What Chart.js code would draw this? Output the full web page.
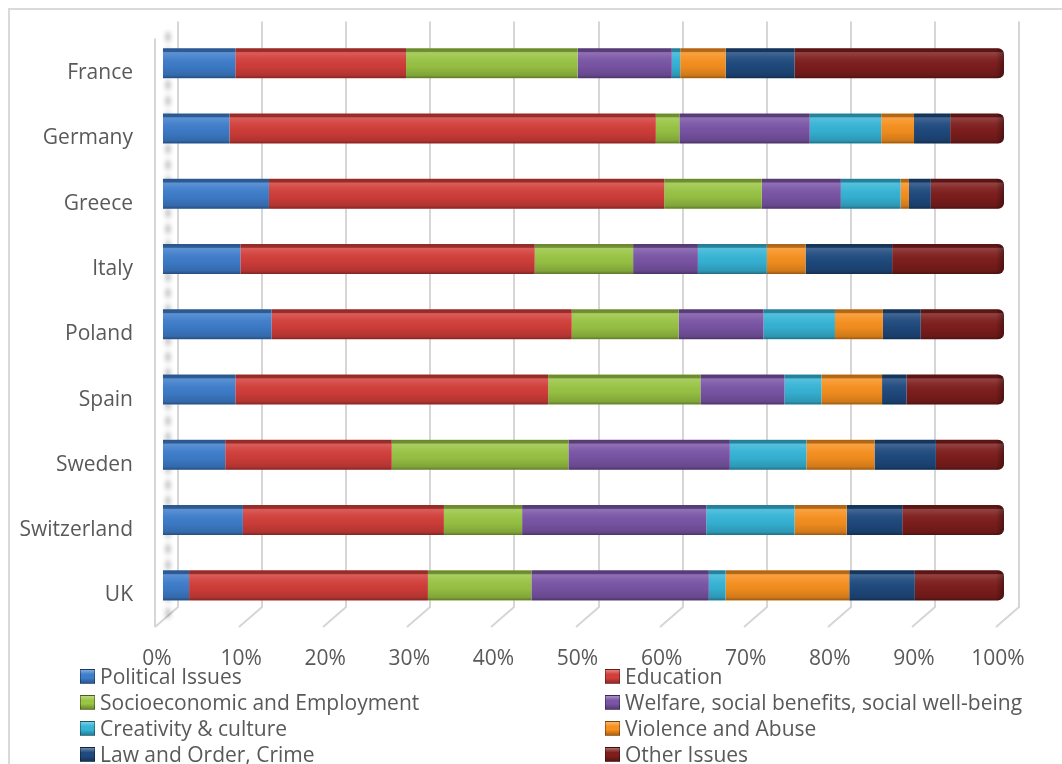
<!DOCTYPE html>
<html>
<head>
<meta charset="utf-8">
<title>Issues by country</title>
<script src="https://cdn.jsdelivr.net/npm/chart.js@4.4.1/dist/chart.umd.min.js"></script>
<style>
  html, body { margin: 0; padding: 0; background: #fff; }
  #wrap { position: relative; width: 1062px; height: 764px; overflow: hidden; font-family: "Open Sans", sans-serif; }
  #frame { position: absolute; left: 8px; top: 8px; width: 1200px; height: 900px;
           border-top: 2px solid #dadada; border-left: 2px solid #dadada; box-sizing: border-box; }
  #chart { position: absolute; left: 0; top: 0; }
  .leg { position: absolute; height: 26px; display: flex; align-items: center;
         font-size: 21px; line-height: 26px; color: #595959; white-space: nowrap; }
  .leg i { display: inline-block; width: 15px; height: 15px; margin-right: 5px; box-sizing: border-box; }
</style>
</head>
<body>
<div id="wrap">
  <div id="frame"></div>
  <canvas id="chart" width="1062" height="764"></canvas>
  <div id="legend"></div>
</div>
<script>
// Countries (top to bottom) and the share of each issue, in percent
const countries = ['France', 'Germany', 'Greece', 'Italy', 'Poland', 'Spain', 'Sweden', 'Switzerland', 'UK'];

const politicalIssues = [8.6, 7.9, 12.6, 9.2, 12.9, 8.6, 7.4, 9.5, 3.1];
const education       = [20.3, 50.7, 47.0, 35.0, 35.7, 37.2, 19.8, 23.9, 28.4];
const socioeconomic   = [20.4, 2.8, 11.6, 11.7, 12.7, 18.1, 21.0, 9.3, 12.3];
const welfare         = [11.2, 15.5, 9.4, 7.7, 10.1, 10.0, 19.2, 21.9, 21.1];
const creativity      = [1.0, 8.5, 7.1, 8.2, 8.5, 4.4, 9.1, 10.5, 2.0];
const violence        = [5.4, 3.9, 1.0, 4.6, 5.7, 7.2, 8.1, 6.2, 14.7];
const lawOrder        = [8.2, 4.3, 2.6, 10.3, 4.5, 2.9, 7.3, 6.6, 7.8];
const otherIssues     = [24.9, 6.4, 8.7, 13.3, 9.9, 11.6, 8.1, 12.1, 10.6];

const seriesNames = [
  'Political Issues', 'Education',
  'Socioeconomic and Employment', 'Welfare, social benefits, social well-being',
  'Creativity & culture', 'Violence and Abuse',
  'Law and Order, Crime', 'Other Issues'
];
const seriesValues = [politicalIssues, education, socioeconomic, welfare, creativity, violence, lawOrder, otherIssues];
const seriesColors = ['#3E7DCB', '#D23E3A', '#99C444', '#7A55A6', '#36B4D6', '#F7901F', '#1F4A7F', '#7E1E1D'];

const tickLabels = ['0%', '10%', '20%', '30%', '40%', '50%', '60%', '70%', '80%', '90%', '100%'];

const FONT = { family: '"Open Sans", sans-serif', size: 21 };
const TEXT = '#595959';
const CAP_RADIUS = 6;
const lastIndex = seriesNames.length - 1;

// Back wall gridlines with a short slanted floor edge, plus the left wall edge
const wallGrid = {
  id: 'wallGrid',
  beforeDatasetsDraw(chart) {
    const { ctx, chartArea, scales: { x } } = chart;
    const backTop = chartArea.top - 9;
    const backBottom = chartArea.bottom - 11;
    const dx = 23, dy = 20, shift = 15;
    ctx.save();
    ctx.strokeStyle = '#d6d6d6';
    ctx.lineWidth = 2;
    x.ticks.forEach(t => {
      const bx = Math.round(x.getPixelForValue(t.value) + shift);
      ctx.beginPath();
      ctx.moveTo(bx, backTop);
      ctx.lineTo(bx, backBottom);
      ctx.lineTo(bx - dx, backBottom + dy);
      ctx.stroke();
    });
    const fx = Math.round(x.getPixelForValue(0) + shift - dx);
    ctx.beginPath();
    ctx.moveTo(fx, backTop + 17);
    ctx.lineTo(fx, backBottom + dy);
    ctx.stroke();
    // soft shadow of the bars on the left wall
    ctx.filter = 'blur(2.5px)';
    ctx.strokeStyle = 'rgba(0,0,0,0.4)';
    ctx.lineWidth = 3;
    ctx.setLineDash([9, 7]);
    const sx = x.getPixelForValue(0) + 5;
    ctx.beginPath();
    ctx.moveTo(sx, chartArea.top + 2);
    ctx.lineTo(sx, chartArea.bottom + 2);
    ctx.stroke();
    ctx.restore();
  }
};

// Bevel shading across each bar: dark top face, highlight, darker lower edge
const barShade = {
  id: 'barShade',
  afterDatasetsDraw(chart) {
    const ctx = chart.ctx;
    chart.data.datasets.forEach((ds, i) => {
      const meta = chart.getDatasetMeta(i);
      if (meta.hidden) return;
      meta.data.forEach(bar => {
        const { x, y, base, height } = bar.getProps(['x', 'y', 'base', 'height'], true);
        const left = Math.min(x, base);
        const w = Math.abs(x - base);
        const top = y - height / 2;
        if (w <= 0) return;
        const g = ctx.createLinearGradient(0, top, 0, top + height);
        g.addColorStop(0, 'rgba(0,0,0,0.32)');
        g.addColorStop(0.11, 'rgba(0,0,0,0.26)');
        g.addColorStop(0.15, 'rgba(255,255,255,0.16)');
        g.addColorStop(0.32, 'rgba(255,255,255,0.06)');
        g.addColorStop(0.6, 'rgba(0,0,0,0.03)');
        g.addColorStop(0.9, 'rgba(0,0,0,0.16)');
        g.addColorStop(1, 'rgba(0,0,0,0.40)');
        ctx.save();
        ctx.beginPath();
        const r = i === lastIndex ? CAP_RADIUS : 0;
        ctx.roundRect(left, top, w, height, [0, r, r, 0]);
        ctx.clip();
        ctx.fillStyle = g;
        ctx.fillRect(left, top, w, height);
        if (i === lastIndex) {
          const h = ctx.createLinearGradient(left + w - 8, 0, left + w, 0);
          h.addColorStop(0, 'rgba(0,0,0,0)');
          h.addColorStop(1, 'rgba(0,0,0,0.35)');
          ctx.fillStyle = h;
          ctx.fillRect(left + w - 8, top, 8, height);
        }
        ctx.restore();
      });
    });
  }
};

const datasets = seriesNames.map((name, i) => ({
  label: name,
  data: seriesValues[i],
  backgroundColor: seriesColors[i],
  borderWidth: 0,
  borderRadius: i === lastIndex
    ? { topLeft: 0, bottomLeft: 0, topRight: CAP_RADIUS, bottomRight: CAP_RADIUS }
    : 0,
  borderSkipped: false,
  barPercentage: 0.46,
  categoryPercentage: 1.0
}));

new Chart(document.getElementById('chart'), {
  type: 'bar',
  data: { labels: countries, datasets },
  options: {
    indexAxis: 'y',
    responsive: false,
    animation: false,
    devicePixelRatio: 1,
    layout: { padding: { top: 0, right: 58, left: 0, bottom: 0 } },
    plugins: { legend: { display: false }, tooltip: { enabled: false } },
    scales: {
      x: {
        stacked: true,
        min: 0,
        max: 100,
        grid: { display: false },
        border: { display: false },
        afterFit(scale) { scale.height = 146; },
        ticks: {
          stepSize: 10,
          autoSkip: false,
          maxRotation: 0,
          padding: 20,
          labelOffset: -6,
          font: FONT,
          color: TEXT,
          callback: (v, idx) => tickLabels[idx]
        }
      },
      y: {
        stacked: true,
        grid: { display: false, tickLength: 12 },
        border: { display: false },
        afterFit(scale) { scale.width = 163; },
        ticks: { padding: 18, labelOffset: 10, font: FONT, color: TEXT }
      }
    }
  },
  plugins: [wallGrid, barShade]
});

// Two-column legend under the axis
const legend = document.getElementById('legend');
const colX = [80, 605];
seriesNames.forEach((name, i) => {
  const row = Math.floor(i / 2), col = i % 2;
  const item = document.createElement('div');
  item.className = 'leg';
  item.style.left = colX[col] + 'px';
  item.style.top = (663 + row * 26) + 'px';
  const box = document.createElement('i');
  const c = seriesColors[i];
  box.style.background =
    'linear-gradient(to bottom, rgba(255,255,255,0.35) 0%, rgba(255,255,255,0) 35%, rgba(0,0,0,0) 60%, rgba(0,0,0,0.3) 100%), ' + c;
  box.style.border = '1px solid rgba(0,0,0,0.35)';
  item.appendChild(box);
  item.appendChild(document.createTextNode(name));
  legend.appendChild(item);
});
</script>
</body>
</html>
